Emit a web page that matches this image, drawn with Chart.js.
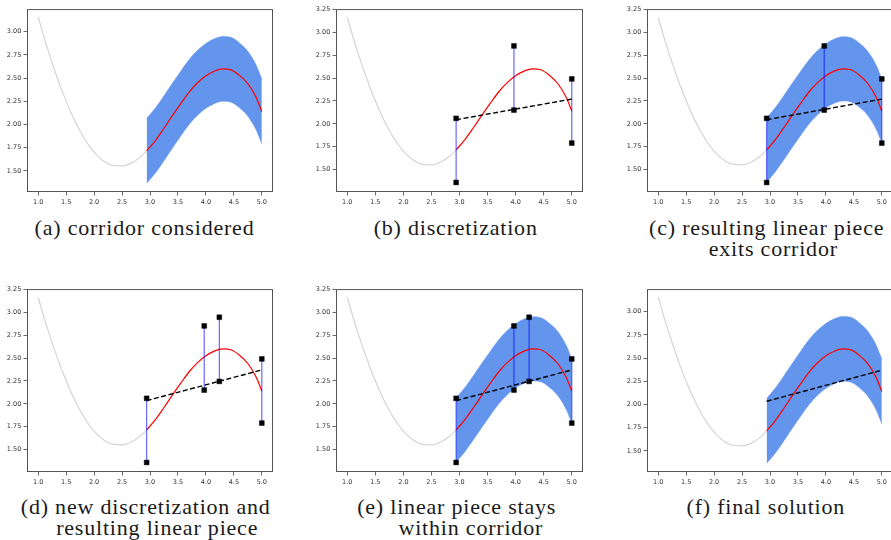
<!DOCTYPE html>
<html>
<head>
<meta charset="utf-8">
<title>Corridor discretization</title>
<script src="https://cdn.jsdelivr.net/npm/chart.js@4.4.1/dist/chart.umd.min.js"></script>
<style>
    body { margin: 0; background: #fff; width: 891px; height: 540px; position: relative; overflow: hidden; }
    canvas { position: absolute; }
    .cap { position: absolute; width: 400px; text-align: center; white-space: nowrap; letter-spacing: 0.8px;
           font-family: "Liberation Serif", "DejaVu Serif", serif; font-size: 22px; line-height: 22px; color: #1a1a1a; }
</style>
</head>
<body>
<script>
//********************************************************************************//
//                            Data
//********************************************************************************//
var xTicks = [1.0, 1.5, 2.0, 2.5, 3.0, 3.5, 4.0, 4.5, 5.0];
var yTicks = [1.50, 1.75, 2.00, 2.25, 2.50, 2.75, 3.00, 3.25];

// grey part of the function, left of the corridor
var greyX = [1.00, 1.15, 1.30, 1.45, 1.60, 1.75, 1.90, 2.05, 2.20, 2.35, 2.50, 2.65, 2.80, 2.94];
var greyY = [3.16, 2.853, 2.575, 2.328, 2.11, 1.927, 1.78, 1.669, 1.594, 1.558, 1.553, 1.578, 1.635, 1.713];

// function piece and its corridor
var pieceX = [2.94, 3.10, 3.25, 3.40, 3.55, 3.70, 3.85, 4.00, 4.15, 4.30, 4.45, 4.60, 4.75, 4.90, 5.00];
var redY   = [1.715, 1.83, 1.96, 2.095, 2.225, 2.35, 2.45, 2.525, 2.575, 2.60, 2.59, 2.53, 2.44, 2.29, 2.14];
var upperY = [2.065, 2.18, 2.31, 2.445, 2.575, 2.70, 2.80, 2.875, 2.925, 2.95, 2.94, 2.88, 2.79, 2.64, 2.49];
var lowerY = [1.365, 1.48, 1.61, 1.745, 1.875, 2.00, 2.10, 2.175, 2.225, 2.25, 2.24, 2.18, 2.09, 1.94, 1.79];

// discretization points
var coarseX      = [2.94, 3.97, 5.00];
var coarseTop    = [2.06, 2.85, 2.49];
var coarseBottom = [1.36, 2.15, 1.79];

var fineX      = [2.94, 3.97, 4.24, 5.00];
var fineTop    = [2.06, 2.85, 2.945, 2.49];
var fineBottom = [1.36, 2.15, 2.245, 1.79];

// linear pieces
var pieceEndsX = [2.94, 5.00];
var firstLineY = [2.045, 2.27];
var finalLineY = [2.035, 2.37];

var Figure = function () {

    //********************************************************************************//
    //                            Panels
    //********************************************************************************//
    var panels = [
        { box: [27, 9, 246, 183],   yMin: 1.272, yMax: 3.245, band: true,  marks: null, line: null,
          caption: [['(a) corridor considered', 144.5, 227.7]] },
        { box: [336, 9, 247, 183],  yMin: 1.256, yMax: 3.252, band: false, marks: 'coarse', line: firstLineY,
          caption: [['(b) discretization', 455.7, 227.7]] },
        { box: [647, 9, 246, 183],  yMin: 1.256, yMax: 3.252, band: true,  marks: 'coarse', line: firstLineY,
          caption: [['(c) resulting linear piece', 766.7, 227.7], ['exits corridor', 773.3, 249.3]] },
        { box: [27, 289, 246, 183], yMin: 1.256, yMax: 3.252, band: false, marks: 'fine', line: finalLineY,
          caption: [['(d) new discretization and', 145.7, 506.7], ['resulting linear piece', 157.2, 528.3]] },
        { box: [336, 289, 247, 183], yMin: 1.256, yMax: 3.252, band: true, marks: 'fine', line: finalLineY,
          caption: [['(e) linear piece stays', 456.7, 506.7], ['within corridor', 470.8, 528.3]] },
        { box: [647, 289, 246, 183], yMin: 1.272, yMax: 3.245, band: true, marks: null, line: finalLineY,
          caption: [['(f) final solution', 765.8, 506.7]] }
    ];

    var framePlugin = {
        id: 'frame',
        afterDatasetsDraw: function (chart) {
            var a = chart.chartArea, c = chart.ctx;
            c.save();
            c.strokeStyle = '#555';
            c.lineWidth = 1;
            c.strokeRect(a.left + 0.5, a.top + 0.5, a.right - a.left - 1, a.bottom - a.top - 1);
            c.restore();
        }
    };

    //********************************************************************************//
    //                            methods
    //********************************************************************************//
    var pts = function (xs, ys) {
        return xs.map(function (x, i) { return { x: x, y: ys[i] }; });
    };

    var curve = function (data, color, width, order) {
        return {
            data: data, showLine: true, pointRadius: 0, fill: false,
            borderColor: color, borderWidth: width,
            cubicInterpolationMode: 'monotone', order: order
        };
    };

    var axis = function (min, max, values, digits, isX) {
        return {
            type: 'linear', min: min, max: max,
            afterBuildTicks: function (s) {
                s.ticks = values.filter(function (v) { return v >= min && v <= max + 0.004; })
                                .map(function (v) { return { value: v }; });
            },
            afterFit: function (s) {
                if (isX) { s.height = 20; } else { s.width = 30; }
            },
            grid: { drawOnChartArea: false, drawTicks: true, tickLength: 3.5, color: '#444', lineWidth: 0.8 },
            border: { display: false },
            ticks: {
                autoSkip: false, maxRotation: 0, padding: isX ? 3 : 2.2,
                color: '#333', font: { family: 'DejaVu Sans', size: 6.5 },
                callback: function (v) { return Number(v).toFixed(digits); }
            }
        };
    };

    var buildPanel = function (p) {
        var cv = document.createElement('canvas');
        cv.width = p.box[2] + 36;
        cv.height = p.box[3] + 26;
        cv.style.left = (p.box[0] - 30) + 'px';
        cv.style.top = (p.box[1] - 6) + 'px';
        document.body.appendChild(cv);

        var ds = [];
        ds.push(curve(pts(greyX, greyY), '#d4d4d4', 1.2, 9));
        if (p.band) {
            var up = curve(pts(pieceX, upperY), '#6495ed', 0.5, 8);
            up.fill = '+1';
            up.backgroundColor = '#6495ed';
            ds.push(up);
            ds.push(curve(pts(pieceX, lowerY), '#6495ed', 0.5, 8));
        }
        ds.push(curve(pts(pieceX, redY), '#ff0000', 1.2, 5));

        if (p.marks) {
            var mx = p.marks === 'coarse' ? coarseX : fineX;
            var mt = p.marks === 'coarse' ? coarseTop : fineTop;
            var mb = p.marks === 'coarse' ? coarseBottom : fineBottom;
            mx.forEach(function (x, i) {
                ds.push(curve([{ x: x, y: mb[i] }, { x: x, y: mt[i] }], 'rgba(0,0,255,0.6)', 1.2, 3));
            });
            ds.push({
                data: pts(mx, mt).concat(pts(mx, mb)), showLine: false, order: 0,
                pointStyle: 'rect', pointRadius: 3.4, backgroundColor: '#000', borderColor: '#000', borderWidth: 0.5
            });
        }
        if (p.line) {
            var dl = curve(pts(pieceEndsX, p.line), '#000', 1.4, 1);
            dl.borderDash = [5, 2.5];
            ds.push(dl);
        }

        new Chart(cv, {
            type: 'scatter',
            data: { datasets: ds },
            options: {
                animation: false, responsive: false, devicePixelRatio: 1, events: [],
                layout: { padding: { left: 0, top: 6, right: 6, bottom: 0 } },
                plugins: { legend: { display: false }, tooltip: { enabled: false } },
                scales: {
                    x: axis(0.8, 5.2, xTicks, 1, true),
                    y: axis(p.yMin, p.yMax, yTicks, 2, false)
                }
            },
            plugins: [framePlugin]
        });

        p.caption.forEach(function (line) {
            var d = document.createElement('div');
            d.className = 'cap';
            d.textContent = line[0];
            d.style.left = (line[1] - 200) + 'px';
            d.style.top = (line[2] - 11) + 'px';
            document.body.appendChild(d);
        });
    };

    return {
        init: function () {
            panels.forEach(buildPanel);
        }
    };
}();

window.addEventListener('load', function () {
    Figure.init();
});
</script>
</body>
</html>
